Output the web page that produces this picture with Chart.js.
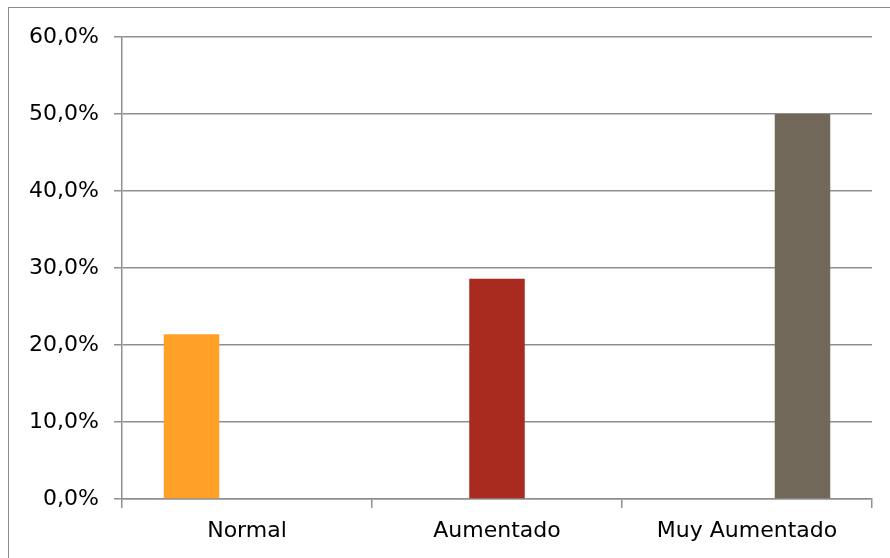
<!DOCTYPE html>
<html lang="es">
<head>
  <meta charset="UTF-8">
  <title>Distribución</title>
  <script src="https://cdn.jsdelivr.net/npm/chart.js"></script>
  <style>
    body { margin: 0; background: #fff; overflow: hidden; }
    #wrap { position: relative; width: 890px; height: 558px; overflow: hidden; }
    #frame { position: absolute; left: 8px; top: 7px; width: 900px; height: 600px; border: 1px solid #8c8c8c; pointer-events: none; }
  </style>
</head>
<body>
  <div id="wrap">
    <canvas id="chart" width="890" height="558"></canvas>
    <div id="frame"></div>
  </div>

  <script>
    const categories = ["Normal", "Aumentado", "Muy Aumentado"];
    const normalValues = [21.4, null, null];
    const aumentadoValues = [null, 28.6, null];
    const muyAumentadoValues = [null, null, 50.0];
    const yTicks = [0, 10, 20, 30, 40, 50, 60];

    const grey = "#8f8f8f";
    const font = { family: "DejaVu Sans", size: 22 };

    new Chart(document.getElementById("chart"), {
      type: "bar",
      data: {
        labels: categories,
        datasets: [
          { label: "Normal", data: normalValues, backgroundColor: "#FFA027" },
          { label: "Aumentado", data: aumentadoValues, backgroundColor: "#A92B1F" },
          { label: "Muy Aumentado", data: muyAumentadoValues, backgroundColor: "#72685A" }
        ]
      },
      options: {
        responsive: false,
        animation: false,
        categoryPercentage: 0.666,
        barPercentage: 1,
        layout: { padding: { left: 0, top: 37, right: 18, bottom: 0 } },
        plugins: { legend: { display: false }, tooltip: { enabled: false } },
        scales: {
          x: {
            afterFit: s => { s.height = 59; },
            grid: { offset: true, drawOnChartArea: false, tickLength: 9, color: grey, lineWidth: 1.5 },
            border: { color: grey, width: 1.5 },
            ticks: { color: "#000", padding: 10, font: font }
          },
          y: {
            min: 0,
            max: 60,
            afterFit: s => { s.width = 122; },
            afterBuildTicks: s => { s.ticks = yTicks.map(v => ({ value: v })); },
            grid: { color: grey, lineWidth: 1.5, tickLength: 8 },
            border: { color: grey, width: 1.5 },
            ticks: {
              color: "#000",
              padding: 15,
              font: font,
              callback: v => v.toFixed(1).replace(".", ",") + "%"
            }
          }
        }
      }
    });
  </script>
</body>
</html>
